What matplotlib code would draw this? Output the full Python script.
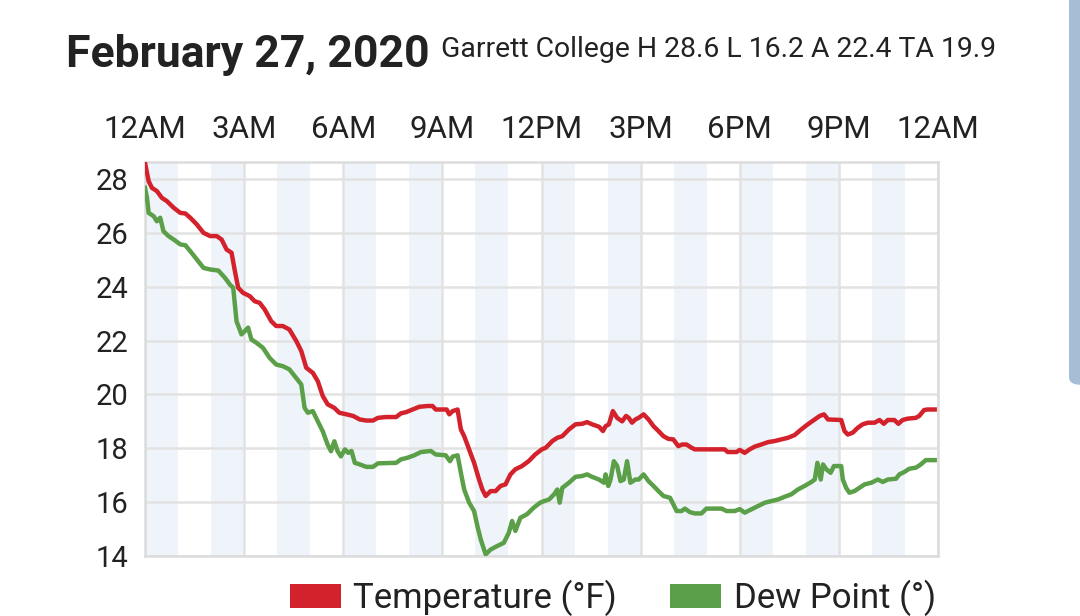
import matplotlib
matplotlib.use("Agg")
import matplotlib.pyplot as plt
from matplotlib.patches import Patch, FancyBboxPatch

# ---- data ----
temp_hours = [0.0, 0.11, 0.21, 0.36, 0.51, 0.66, 0.87, 1.07, 1.22, 1.37, 1.57, 1.77, 1.97, 2.17, 2.32,
              2.47, 2.62, 2.72, 2.82, 2.97, 3.17, 3.32, 3.47, 3.62, 3.82, 3.97, 4.17, 4.37, 4.58, 4.73,
              4.88, 5.08, 5.23, 5.38, 5.53, 5.73, 5.88, 6.1, 6.3, 6.5, 6.7, 6.9, 7.05, 7.3, 7.6, 7.75,
              7.9, 8.1, 8.3, 8.55, 8.7, 8.8, 9.13, 9.21, 9.31, 9.46, 9.56, 9.66, 9.81, 9.96, 10.11,
              10.21, 10.31, 10.46, 10.61, 10.76, 10.91, 11.06, 11.21, 11.41, 11.61, 11.81, 12.01, 12.13,
              12.33, 12.48, 12.63, 12.83, 13.03, 13.23, 13.38, 13.53, 13.74, 13.86, 13.94, 14.04, 14.16,
              14.29, 14.44, 14.56, 14.64, 14.74, 14.84, 14.94, 15.09, 15.24, 15.39, 15.54, 15.69, 15.84,
              15.99, 16.14, 16.26, 16.39, 16.54, 16.64, 17.54, 17.64, 17.9, 18.0, 18.15, 18.3, 18.45,
              18.65, 18.86, 19.06, 19.26, 19.46, 19.66, 19.86, 20.06, 20.27, 20.42, 20.55, 20.67, 21.07,
              21.17, 21.27, 21.42, 21.57, 21.72, 21.88, 22.08, 22.23, 22.36, 22.48, 22.68, 22.8, 22.93,
              23.08, 23.33, 23.43, 23.58, 23.68, 23.9]
temp_values = [28.6, 27.92, 27.67, 27.55, 27.3, 27.18, 26.93, 26.74, 26.72, 26.56, 26.31, 26.0, 25.88, 25.88, 25.75,
               25.38, 25.26, 24.58, 23.96, 23.77, 23.65, 23.46, 23.4, 23.16, 22.72, 22.54, 22.54, 22.41, 21.98, 21.61,
               20.99, 20.8, 20.49, 19.94, 19.63, 19.5, 19.32, 19.26, 19.2, 19.07, 19.03, 19.03, 19.13, 19.16, 19.16, 19.3,
               19.34, 19.44, 19.54, 19.57, 19.57, 19.44, 19.44, 19.26, 19.38, 19.44, 18.7, 18.45, 17.96, 17.46, 16.84,
               16.47, 16.23, 16.41, 16.41, 16.6, 16.66, 17.03, 17.22, 17.34, 17.52, 17.77, 17.96, 18.02,
               18.27, 18.39, 18.45, 18.7, 18.89, 18.91, 18.97, 18.89, 18.8, 18.64, 18.82, 18.89, 19.38,
               19.13, 19.0, 19.2, 19.13, 18.95, 19.07, 19.13, 19.26, 19.07, 18.82, 18.64, 18.45, 18.35,
               18.33, 18.08, 18.14, 18.14, 18.02, 17.96, 17.96, 17.86, 17.86, 17.94, 17.83, 17.96, 18.06,
               18.14, 18.23, 18.27, 18.33, 18.39, 18.49, 18.7, 18.89, 19.07, 19.2, 19.26, 19.07, 19.05,
               18.64, 18.51, 18.58, 18.76, 18.89, 18.95, 18.95, 19.05, 18.91, 19.05, 19.05, 18.91, 19.05,
               19.1, 19.13, 19.2, 19.42, 19.44, 19.44]

dew_hours = [0.0, 0.06, 0.11, 0.26, 0.36, 0.46, 0.56, 0.71, 0.87, 1.07, 1.22, 1.37, 1.57, 1.77, 1.97, 2.22,
             2.42, 2.57, 2.67, 2.77, 2.92, 3.02, 3.12, 3.22, 3.37, 3.57, 3.77, 3.97, 4.17, 4.37, 4.53, 4.73,
             4.83, 4.93, 5.08, 5.23, 5.38, 5.53, 5.63, 5.73, 5.83, 5.93, 6.05, 6.15, 6.25, 6.35, 6.5, 6.7,
             6.9, 7.05, 7.6, 7.75, 7.95, 8.15, 8.35, 8.65, 8.8, 9.1, 9.23, 9.31, 9.46, 9.56, 9.66, 9.81,
             9.96, 10.06, 10.16, 10.31, 10.46, 10.66, 10.86, 11.01, 11.11, 11.21, 11.36, 11.56, 11.76, 11.96,
             12.08, 12.23, 12.38, 12.48, 12.55, 12.63, 12.83, 13.03, 13.23, 13.38, 13.53, 13.74, 13.89, 13.94,
             14.02, 14.09, 14.19, 14.29, 14.39, 14.49, 14.59, 14.69, 14.84, 14.94, 15.09, 15.24, 15.39, 15.54,
             15.69, 15.89, 15.99, 16.09, 16.24, 16.34, 16.49, 16.64, 16.84, 16.99, 17.45, 17.6, 17.85, 18.0,
             18.15, 18.35, 18.55, 18.76, 18.96, 19.16, 19.36, 19.56, 19.76, 19.96, 20.17, 20.27, 20.35, 20.45,
             20.52, 20.62, 20.75, 20.85, 21.07, 21.12, 21.22, 21.32, 21.47, 21.62, 21.78, 21.98, 22.18, 22.33,
             22.48, 22.73, 22.83, 22.98, 23.13, 23.33, 23.48, 23.63, 23.9]
dew_values = [27.67, 27.3, 26.74, 26.62, 26.43, 26.56, 26.06, 25.88, 25.75, 25.57, 25.54, 25.32, 25.01, 24.7, 24.64, 24.6,
              24.33, 24.08, 23.96, 22.72, 22.23, 22.35, 22.48, 22.04, 21.92, 21.73, 21.36, 21.11, 21.05, 20.93, 20.68, 20.37,
              19.5, 19.32, 19.38, 19.0, 18.63, 18.13, 17.89, 18.26, 17.89, 17.7, 17.96, 17.83, 17.9, 17.46, 17.4, 17.31,
              17.31, 17.44, 17.46, 17.59, 17.65, 17.74, 17.86, 17.9, 17.77, 17.74, 17.52, 17.69, 17.74, 17.09, 16.47, 15.98,
              15.67, 15.11, 14.62, 14.06, 14.24, 14.37, 14.49, 14.86, 15.3, 14.93, 15.42, 15.55, 15.79, 15.98,
              16.04, 16.1, 16.29, 16.47, 15.98, 16.53, 16.72, 16.94, 16.97, 17.03, 16.94, 16.84, 16.72, 17.03,
              16.6, 16.84, 17.52, 17.34, 16.78, 16.84, 17.52, 16.72, 16.84, 16.84, 17.03, 16.78, 16.6, 16.41,
              16.23, 16.16, 15.92, 15.67, 15.67, 15.76, 15.63, 15.58, 15.58, 15.76, 15.76, 15.67, 15.67, 15.74,
              15.61, 15.73, 15.85, 15.98, 16.04, 16.1, 16.2, 16.29, 16.47, 16.6, 16.75, 16.84, 17.46, 16.84,
              17.4, 17.22, 17.09, 17.34, 17.34, 16.84, 16.53, 16.35, 16.41, 16.53, 16.66, 16.72, 16.84, 16.75,
              16.84, 16.87, 17.03, 17.12, 17.24, 17.28, 17.4, 17.56, 17.56]

tick_hours = [0, 3, 6, 9, 12, 15, 18, 21, 24]
tick_labels = ["12AM", "3AM", "6AM", "9AM", "12PM", "3PM", "6PM", "9PM", "12AM"]
y_ticks = [14, 16, 18, 20, 22, 24, 26, 28]
series_names = ["Temperature (°F)", "Dew Point (°)"]
title_text = "February 27, 2020"
subtitle_text = "Garrett College H 28.6 L 16.2 A 22.4 TA 19.9"

RED = "#d3222c"
GREEN = "#5b9f48"
TXT = "#222222"
GRID = "#e2e2e2"
BAND = "#eef4fa"

plt.rcParams['font.family'] = ['Roboto', 'DejaVu Sans']

W, H = 1080, 616
fig = plt.figure(figsize=(W / 100, H / 100), dpi=100)
L, R, T, B = 145, 938, 162, 556
ax = fig.add_axes([L / W, 1 - B / H, (R - L) / W, (B - T) / H])

for h in range(0, 24, 2):
    ax.axvspan(h, h + 1, color=BAND, zorder=0, lw=0)

ax.plot(temp_hours, temp_values, color=RED, lw=3.2, zorder=3, solid_joinstyle='round')
ax.plot(dew_hours, dew_values, color=GREEN, lw=3.2, zorder=3, solid_joinstyle='round')

ax.set_xlim(0, 24)
ax.set_ylim(14, 14 + (B - T) / 26.93)
ax.set_xticks(tick_hours)
ax.set_xticklabels(tick_labels)
ax.set_yticks(y_ticks)
ax.xaxis.tick_top()
ax.tick_params(axis='x', length=0, pad=13, labelsize=22.5, labelcolor=TXT)
ax.tick_params(axis='y', length=0, pad=12, labelsize=21, labelcolor=TXT)
ax.grid(True, color=GRID, lw=1.8, zorder=1)
ax.set_axisbelow(True)
for s in ax.spines.values():
    s.set_color("#dcdcdc")
    s.set_linewidth(1.8)

fig.text(66 / W, 1 - 67 / H, title_text, fontsize=32, fontweight='bold', color=TXT, va='baseline', ha='left')
fig.text(441 / W, 1 - 57 / H, subtitle_text, fontsize=20.4, color=TXT, va='baseline', ha='left')

handles = [Patch(facecolor=RED, edgecolor='none'), Patch(facecolor=GREEN, edgecolor='none')]
fig.legend(handles, series_names, loc='center', bbox_to_anchor=(613 / W, 1 - 598 / H), ncol=2,
           frameon=False, handlelength=1.47, handleheight=0.72, handletextpad=0.37,
           columnspacing=1.53, labelcolor=TXT, prop={'family': ['Roboto', 'DejaVu Sans'], 'size': 25})

# scrollbar-like bar at right edge
bar = FancyBboxPatch((1069 / W, 1 - 385 / H), 20 / W, 400 / H, boxstyle="round,pad=0,rounding_size=0.012",
                     transform=fig.transFigure, facecolor="#a5bed6", edgecolor="none", clip_on=False)
fig.patches.append(bar)

fig.savefig("out.png", dpi=100, facecolor="white")
